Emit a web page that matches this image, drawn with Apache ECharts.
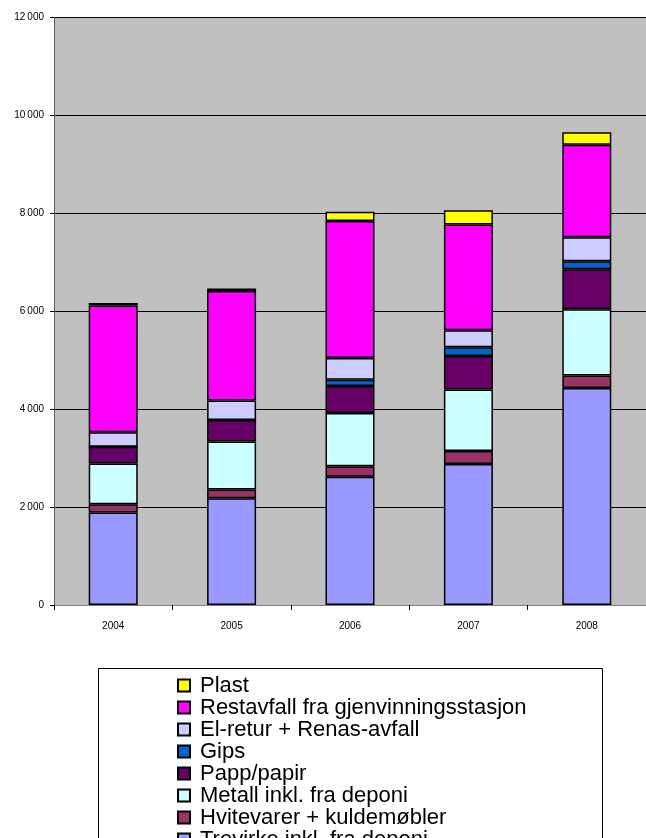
<!DOCTYPE html>
<html>
<head>
<meta charset="utf-8">
<script src="https://cdn.jsdelivr.net/npm/echarts@6/dist/echarts.min.js"></script>
<style>
html,body{margin:0;padding:0;background:#fff;}
#c{width:646px;height:838px;}
</style>
</head>
<body>
<div id="c"></div>
<script>
const years = ['2004', '2005', '2006', '2007', '2008'];
const trevirke   = [1890, 2180, 2620, 2880, 4430];
const hvitevarer = [170, 180, 215, 265, 260];
const metall     = [830, 980, 1085, 1255, 1350];
const papp       = [340, 440, 555, 685, 820];
const gips       = [0, 0, 125, 180, 160];
const elretur    = [300, 395, 445, 345, 490];
const restavfall = [2590, 2240, 2800, 2160, 1890];
const plast      = [50, 50, 185, 295, 255];
const yTicks = [0, 2000, 4000, 6000, 8000, 10000, 12000];

const seriesDefs = [
  ['Trevirke inkl. fra deponi', trevirke, '#9999FF'],
  ['Hvitevarer + kuldemøbler', hvitevarer, '#993366'],
  ['Metall inkl. fra deponi', metall, '#CCFFFF'],
  ['Papp/papir', papp, '#660066'],
  ['Gips', gips, '#0066CC'],
  ['El-retur + Renas-avfall', elretur, '#CCCCFF'],
  ['Restavfall fra gjenvinningsstasjon', restavfall, '#FF00FF'],
  ['Plast', plast, '#FFFF00']
];

const chart = echarts.init(document.getElementById('c'), null, {renderer: 'canvas'});
const font = 'Liberation Sans, Arial, sans-serif';

chart.setOption({
  animation: false,
  graphic: [{
    type: 'rect', z: 0,
    shape: {x: 98.5, y: 668.5, width: 504, height: 220},
    style: {fill: '#fff', stroke: '#000', lineWidth: 1}
  }],
  grid: {
    left: 54, top: 17.5, width: 604, height: 587.5,
    show: true, backgroundColor: '#C0C0C0', borderWidth: 0
  },
  legend: {
    orient: 'vertical',
    left: 177, top: 674.5,
    width: 400, height: 220,
    padding: 0,
    itemGap: 0,
    itemWidth: 12, itemHeight: 12,
    icon: 'rect',
    z: 10,
    itemStyle: {borderColor: '#000', borderWidth: 2},
    textStyle: {fontFamily: font, fontSize: 22, color: '#000', lineHeight: 20.8, padding: [0, 0, 0, 5]},
    data: seriesDefs.map(d => d[0]).reverse()
  },
  xAxis: {
    type: 'category',
    data: years,
    axisLine: {show: true, lineStyle: {color: '#808080', width: 1}},
    axisTick: {show: true, length: 5, lineStyle: {color: '#000'}},
    axisLabel: {fontFamily: font, fontSize: 10, color: '#000', margin: 16}
  },
  yAxis: {
    type: 'value',
    min: yTicks[0], max: yTicks[yTicks.length - 1], interval: 2000,
    axisLine: {show: true, lineStyle: {color: '#606060', width: 1}},
    axisTick: {show: true, length: 4, lineStyle: {color: '#000'}},
    splitLine: {show: true, lineStyle: {color: '#000', width: 1}},
    axisLabel: {
      fontFamily: font, fontSize: 10, color: '#000', margin: 10,
      formatter: v => v >= 1000 ? Math.floor(v / 1000) + '\u2009' + String(v % 1000).padStart(3, '0') : String(v)
    }
  },
  series: seriesDefs.map(d => ({
    name: d[0],
    type: 'bar',
    stack: 'total',
    barWidth: 49,
    data: d[1],
    itemStyle: {color: d[2], borderColor: '#000', borderWidth: 1.5}
  }))
});
</script>
</body>
</html>
